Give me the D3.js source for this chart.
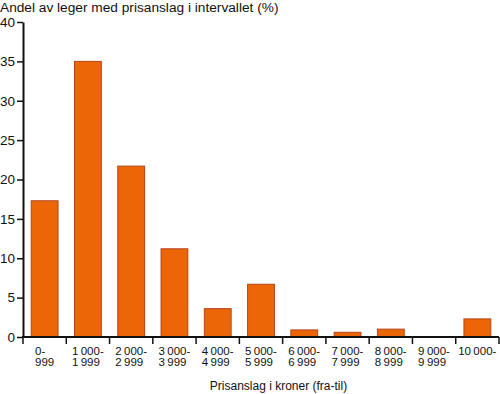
<!DOCTYPE html>
<html>
<head>
<meta charset="utf-8">
<script src="https://cdn.jsdelivr.net/npm/d3@7"></script>
<style>
  body { margin: 0; background: #fff; }
  svg text { font-family: "Liberation Sans", Arial, sans-serif; fill: #111; }
</style>
</head>
<body>
<svg id="chart" width="500" height="394"></svg>
<script>
// price ranges (two label lines each) and share of doctors in each range
const line1 = ["0-", "1 000-", "2 000-", "3 000-", "4 000-", "5 000-", "6 000-", "7 000-", "8 000-", "9 000-", "10 000-"];
const line2 = ["999", "1 999", "2 999", "3 999", "4 999", "5 999", "6 999", "7 999", "8 999", "9 999", ""];
const shares = [17.3, 35.0, 21.7, 11.2, 3.6, 6.7, 0.9, 0.6, 1.0, 0, 2.3];
const yTicks = [0, 5, 10, 15, 20, 25, 30, 35, 40];

const svg = d3.select("#chart");
const mLeft = 23, mRight = 499, mTop = 22, mBottom = 337;

let x = d3.scaleBand()
  .domain(line1)
  .range([mLeft, mRight])
  .paddingInner(0.38)
  .paddingOuter(0.19);

let y = d3.scaleLinear().domain([0, 40]).range([mBottom, mTop]);

// bars
svg.append("g")
  .selectAll("rect")
  .data(shares)
  .join("rect")
  .attr("x", (d, i) => x(line1[i]))
  .attr("y", d => y(d))
  .attr("width", x.bandwidth())
  .attr("height", d => mBottom - y(d))
  .attr("fill", d => d > 0 ? "#ec6608" : "none")
  .attr("stroke", d => d > 0 ? "#b5451b" : "none")
  .attr("stroke-width", 1);

// y axis
let ya = svg.append("g")
  .attr("transform", `translate(${mLeft},0)`)
  .call(d3.axisLeft(y).tickValues(yTicks).tickSize(6).tickPadding(2).tickSizeOuter(0));
ya.select(".domain").attr("stroke", "#111").attr("stroke-width", 2);
ya.selectAll(".tick line").attr("stroke", "#111").attr("stroke-width", 1.5);
ya.selectAll("text").style("font-size", "13.5px").attr("fill", "#111");

// x axis: ticks on band edges
let edges = d3.range(line1.length + 1).map(i => mLeft + i * (mRight - mLeft) / line1.length);
let xa = svg.append("g");
xa.append("line")
  .attr("x1", mLeft - 1).attr("x2", mRight)
  .attr("y1", mBottom).attr("y2", mBottom)
  .attr("stroke", "#111").attr("stroke-width", 2);
xa.selectAll("line.tk")
  .data(edges)
  .join("line")
  .attr("class", "tk")
  .attr("x1", d => d).attr("x2", d => d)
  .attr("y1", mBottom).attr("y2", mBottom + 7)
  .attr("stroke", "#111").attr("stroke-width", 1.5);

// two-line category labels, left aligned with each other, centred on the band
let lg = xa.selectAll("g.lbl")
  .data(line1)
  .join("g")
  .attr("class", "lbl");
lg.append("text")
  .attr("y", 354.5)
  .text(d => d);
lg.append("text")
  .attr("y", 366)
  .text((d, i) => line2[i]);
lg.selectAll("text")
  .style("font-size", "11.5px")
  .style("word-spacing", "-0.8px");
lg.each(function(d) {
  let w = this.getBBox().width;
  let cx = x(d) + x.bandwidth() / 2;
  let x0 = Math.min(cx - w / 2, mRight + 0.5 - w);
  d3.select(this).attr("transform", `translate(${x0},0)`);
});

// titles
svg.append("text")
  .attr("x", 0).attr("y", 12)
  .style("font-size", "13.7px")
  .text("Andel av leger med prisanslag i intervallet (%)");

svg.append("text")
  .attr("x", 278.5).attr("y", 390)
  .attr("text-anchor", "middle")
  .style("font-size", "12px")
  .text("Prisanslag i kroner (fra-til)");
</script>
</body>
</html>
